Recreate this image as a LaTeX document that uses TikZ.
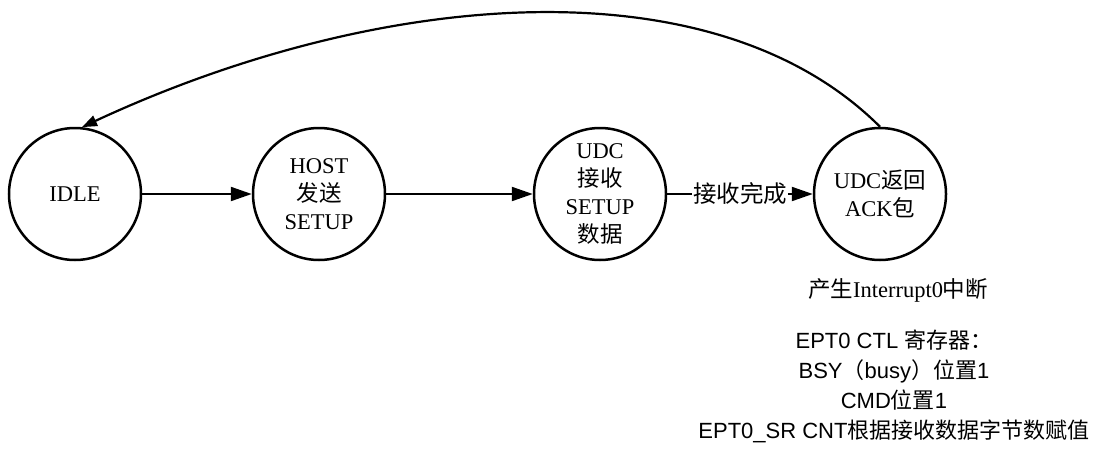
\documentclass[tikz,border=0pt]{standalone}
\usepackage{fontspec}
\setmainfont{Liberation Serif}
\newfontfamily\cjk{Noto Sans CJK SC}
\newfontfamily\arialf{Liberation Sans}
\usetikzlibrary{arrows.meta}
\tikzset{
  state/.style={circle, draw, line width=2.5pt, minimum size=132pt, inner sep=0pt,
                align=center, font=\fontsize{22.5}{28}\selectfont},
  arr/.style={line width=2.2pt, -{Triangle[length=21pt,width=14pt]}},
  backarr/.style={line width=2.2pt, -{Triangle[length=15pt,width=11pt]}},
  elabel/.style={fill=white, inner sep=1pt, font=\fontsize{23.5}{28}\selectfont\cjk},
  note/.style={align=center, inner sep=0pt}
}
\begin{document}
\begin{tikzpicture}[x=1pt,y=-1pt]
\useasboundingbox (0,0) rectangle (1097,450);
\node[state] (idle) at (75,194) {IDLE};
\node[state] (host) at (319,194) {HOST\\{\cjk 发送}\\SETUP};
\node[state] (udc)  at (600,194) {UDC\\{\cjk 接收}\\SETUP\\{\cjk 数据}};
\node[state] (ack)  at (880,194) {UDC{\cjk 返回}\\ACK{\cjk 包}};

\draw[arr] (idle) -- (host);
\draw[arr] (host) -- (udc);
\draw[arr] (udc) -- node[elabel] (lbl) {接收完成} (ack);
\draw[backarr] (ack.90) .. controls (714,-39) and (379,-11) .. (idle.84);

\node[note, anchor=base, font=\fontsize{22.5}{28}\selectfont] (intr) at (898,297)
  {{\cjk 产生}Interrupt0{\cjk 中断}};
\node[note, anchor=base, font=\fontsize{22}{30}\selectfont\arialf] (regs) at (894,438)
  {EPT0 CTL {\cjk 寄存器：}\\
   BSY{\cjk （}busy{\cjk ）位置}1\\
   CMD{\cjk 位置}1\\
   EPT0\_SR CNT{\cjk 根据接收数据字节数赋值}};
\end{tikzpicture}
\end{document}
